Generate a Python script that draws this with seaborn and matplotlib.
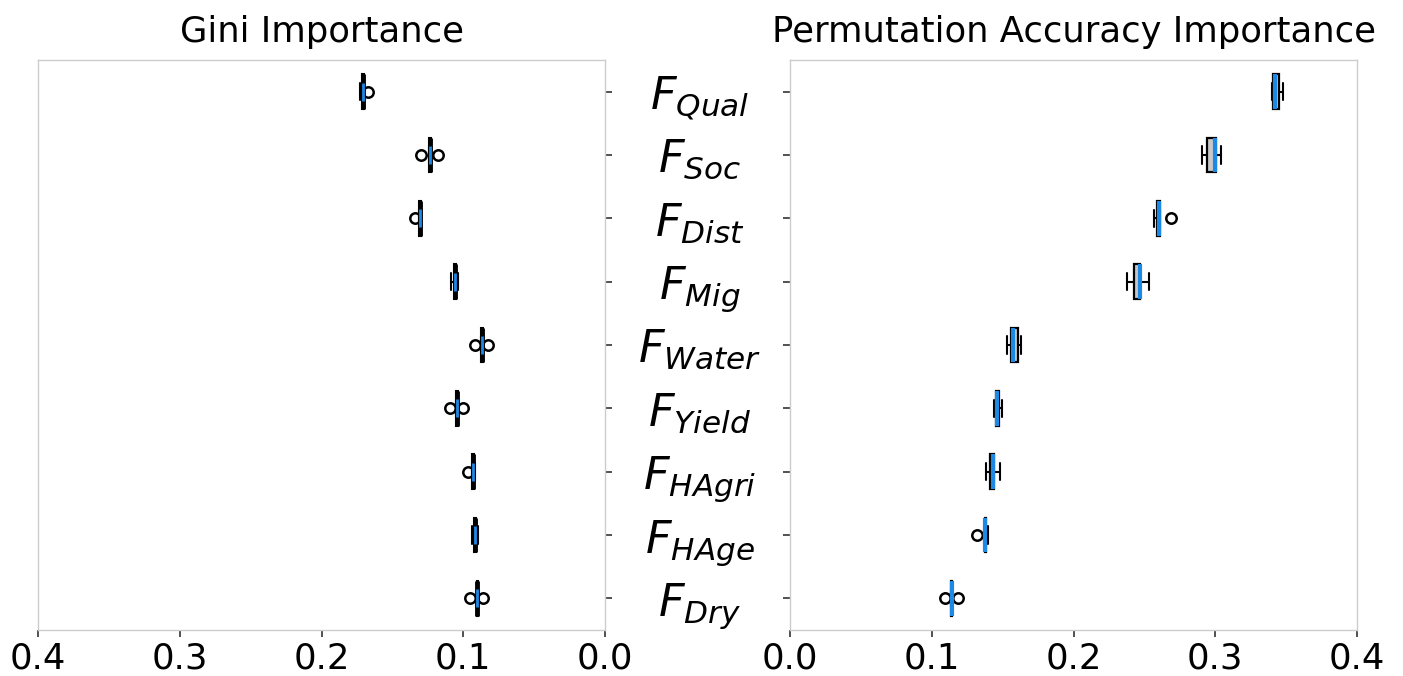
import numpy as np
import pandas as pd
import matplotlib
matplotlib.use("Agg")
import matplotlib.pyplot as plt
import seaborn as sns

# ---------------- data ----------------
features = ["Qual", "Soc", "Dist", "Mig", "Water", "Yield", "HAgri", "HAge", "Dry"]
feature_labels = [r"$F_{Qual}$", r"$F_{Soc}$", r"$F_{Dist}$", r"$F_{Mig}$", r"$F_{Water}$",
                  r"$F_{Yield}$", r"$F_{HAgri}$", r"$F_{HAge}$", r"$F_{Dry}$"]

# Gini importance samples (per feature)
gini_qual = [0.1670, 0.1698, 0.1702, 0.1707, 0.1712, 0.1716, 0.1728]
gini_soc = [0.1180, 0.1225, 0.1231, 0.1235, 0.1239, 0.1245, 0.1300]
gini_dist = [0.1295, 0.1299, 0.1302, 0.1305, 0.1308, 0.1311, 0.1340]
gini_mig = [0.1035, 0.1050, 0.1055, 0.1060, 0.1065, 0.1070, 0.1085]
gini_water = [0.0825, 0.0862, 0.0866, 0.0870, 0.0874, 0.0878, 0.0917]
gini_yield = [0.1000, 0.1038, 0.1042, 0.1046, 0.1050, 0.1054, 0.1090]
gini_hagri = [0.0915, 0.0925, 0.0930, 0.0933, 0.0936, 0.0940, 0.0970]
gini_hage = [0.0897, 0.0910, 0.0913, 0.0917, 0.0920, 0.0925, 0.0937]
gini_dry = [0.0860, 0.0895, 0.0898, 0.0900, 0.0902, 0.0905, 0.0950]

# Permutation accuracy importance samples (per feature)
perm_qual = [0.3400, 0.3400, 0.3410, 0.3420, 0.3440, 0.3460, 0.3480]
perm_soc = [0.2910, 0.2940, 0.2950, 0.3000, 0.3000, 0.3010, 0.3040]
perm_dist = [0.2565, 0.2585, 0.2590, 0.2600, 0.2605, 0.2610, 0.2685]
perm_mig = [0.2380, 0.2420, 0.2430, 0.2468, 0.2468, 0.2470, 0.2533]
perm_water = [0.1530, 0.1560, 0.1565, 0.1576, 0.1600, 0.1615, 0.1630]
perm_yield = [0.1440, 0.1450, 0.1455, 0.1463, 0.1470, 0.1475, 0.1493]
perm_hagri = [0.1383, 0.1405, 0.1410, 0.1430, 0.1435, 0.1440, 0.1480]
perm_hage = [0.1317, 0.1372, 0.1375, 0.1378, 0.1380, 0.1390, 0.1399]
perm_dry = [0.1093, 0.1135, 0.1138, 0.1140, 0.1142, 0.1145, 0.1187]

x_ticks = [0.0, 0.1, 0.2, 0.3, 0.4]

gini_sets = [gini_qual, gini_soc, gini_dist, gini_mig, gini_water, gini_yield, gini_hagri, gini_hage, gini_dry]
perm_sets = [perm_qual, perm_soc, perm_dist, perm_mig, perm_water, perm_yield, perm_hagri, perm_hage, perm_dry]

def long_df(sets):
    rows = []
    for f, vals in zip(features, sets):
        for v in vals:
            rows.append((f, v))
    return pd.DataFrame(rows, columns=["feature", "value"])

df_gini = long_df(gini_sets)
df_perm = long_df(perm_sets)

# ---------------- style ----------------
sns.set_style("white")
plt.rcParams["font.family"] = ["DejaVu Sans"]
plt.rcParams["mathtext.fontset"] = "dejavusans"
plt.rcParams["text.color"] = "black"
plt.rcParams["xtick.color"] = "black"
plt.rcParams["ytick.color"] = "black"
plt.rcParams["axes.labelcolor"] = "black"

BLUE = "#1e88e5"
SPINE = "#cccccc"

fig = plt.figure(figsize=(14.03, 6.76), dpi=100)
W, H = 1403, 676
ax1 = fig.add_axes([38 / W, 46 / H, 567 / W, 570 / H])
ax2 = fig.add_axes([790 / W, 46 / H, 567 / W, 570 / H])

flier = dict(marker="o", markerfacecolor="none", markeredgecolor="black",
             markersize=7.5, markeredgewidth=1.8)

# Gini: thick black bar with a shorter blue centre
sns.boxplot(data=df_gini, x="value", y="feature", order=features, orient="h", ax=ax1,
            width=0.55, color=BLUE, linecolor="black", whis=1.5,
            boxprops=dict(linewidth=1.5, edgecolor="black", facecolor="black"),
            medianprops=dict(color="black", linewidth=3.5),
            whiskerprops=dict(linewidth=1.5, color="black"),
            capprops=dict(linewidth=1.5, color="black"),
            flierprops=flier)
sns.boxplot(data=df_gini, x="value", y="feature", order=features, orient="h", ax=ax1,
            width=0.28, color=BLUE, linecolor=BLUE, whis=1.5, showfliers=False, showcaps=False,
            boxprops=dict(linewidth=0, facecolor="none", edgecolor="none"),
            medianprops=dict(color=BLUE, linewidth=2.0),
            whiskerprops=dict(linewidth=0))

sns.boxplot(data=df_perm, x="value", y="feature", order=features, orient="h", ax=ax2,
            width=0.55, color="#c8c8c8", linecolor="black", whis=1.5,
            boxprops=dict(linewidth=1.6, facecolor="#c8c8c8", edgecolor="black"),
            medianprops=dict(color=BLUE, linewidth=3.0),
            whiskerprops=dict(linewidth=1.5, color="black"),
            capprops=dict(linewidth=1.5, color="black"),
            flierprops=flier)

for ax in (ax1, ax2):
    ax.set_xlabel("")
    ax.set_ylabel("")
    ax.set_xticks(x_ticks)
    ax.set_xticklabels([f"{t:.1f}" for t in x_ticks])
    ax.set_ylim(len(features) - 0.5, -0.5)
    for s in ax.spines.values():
        s.set_color(SPINE)
        s.set_linewidth(1.0)
    ax.tick_params(axis="x", direction="out", length=5, width=1.2, color="#333333",
                   labelsize=25.5, pad=3, bottom=True)
    ax.grid(False)

ax1.set_xlim(0.4, 0.0)
ax2.set_xlim(0.0, 0.4)

# left axis: labels on the right side, centred between the panels
ax1.yaxis.tick_right()
ax1.set_yticks(range(len(features)))
ax1.set_yticklabels(feature_labels)
ax1.tick_params(axis="y", direction="out", length=5, width=1.2, color="#333333",
                labelsize=32, pad=63, left=False, right=True)
for lab in ax1.get_yticklabels():
    lab.set_horizontalalignment("center")

ax2.set_yticks(range(len(features)))
ax2.set_yticklabels([])
ax2.tick_params(axis="y", direction="out", length=5, width=1.2, color="#333333",
                left=True, right=False)

ax1.set_title("Gini Importance", fontsize=25.5, pad=13)
ax2.set_title("Permutation Accuracy Importance", fontsize=25.5, pad=13)

fig.savefig("out.png", dpi=100)
